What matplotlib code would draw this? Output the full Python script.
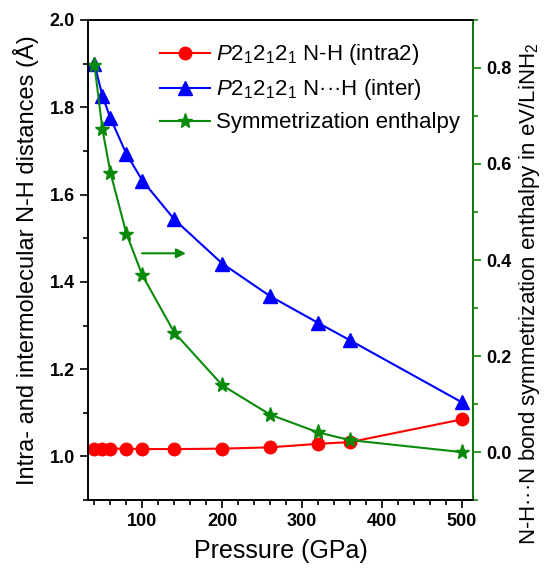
import matplotlib
matplotlib.use("Agg")
import matplotlib.pyplot as plt
from matplotlib.ticker import MultipleLocator

plt.rcParams["font.family"] = ["Liberation Sans", "DejaVu Sans"]
plt.rcParams["mathtext.fontset"] = "custom"
plt.rcParams["mathtext.rm"] = "Liberation Sans"
plt.rcParams["mathtext.it"] = "Liberation Sans:italic"

# ── Data ─────────────────────────────────────────────────────────────────────
pressure = [40, 50, 60, 80, 100, 140, 200, 260, 320, 360, 500]
nh_intra = [1.018, 1.018, 1.018, 1.018, 1.017, 1.017, 1.018, 1.021, 1.029, 1.033, 1.085]
nh_inter = [1.899, 1.826, 1.775, 1.693, 1.632, 1.543, 1.442, 1.367, 1.306, 1.266, 1.124]
sym_enthalpy = [0.806, 0.672, 0.582, 0.455, 0.368, 0.249, 0.139, 0.078, 0.041, 0.025, 0.0]

lbl_intra = r"$\mathit{P}$2$_1$2$_1$2$_1$ N-H (intra2)"
lbl_inter = r"$\mathit{P}$2$_1$2$_1$2$_1$ N" + "\u00b7\u00b7\u00b7" + "H (inter)"
lbl_sym = "Symmetrization enthalpy"

green = "#0a8a0a"

# ── Figure ───────────────────────────────────────────────────────────────────
fig = plt.figure(figsize=(5.47, 5.69), dpi=100)
ax = fig.add_axes([0.161, 0.121, 0.704, 0.844])
ax2 = ax.twinx()

l1, = ax.plot(pressure, nh_intra, "-o", color="red", lw=1.5, ms=9)
l2, = ax.plot(pressure, nh_inter, "-^", color="blue", lw=1.5, ms=10)
l3, = ax2.plot(pressure, sym_enthalpy, "-*", color=green, lw=1.5, ms=11)

ax.set_xlim(32, 514)
ax.set_ylim(0.9, 2.0)
ax2.set_ylim(-0.1, 0.9)

ax.xaxis.set_major_locator(MultipleLocator(100))
ax.xaxis.set_minor_locator(MultipleLocator(20))
ax.yaxis.set_major_locator(MultipleLocator(0.2))
ax.yaxis.set_minor_locator(MultipleLocator(0.1))
ax2.yaxis.set_major_locator(MultipleLocator(0.2))
ax2.yaxis.set_minor_locator(MultipleLocator(0.1))

ax.tick_params(which="major", length=6, width=1.2, labelsize=13)
ax.tick_params(which="minor", length=3.5, width=1.2)
ax.tick_params(axis="x", top=False, which="both")
ax2.tick_params(which="major", length=6, width=1.2, labelsize=13, color=green)
ax2.tick_params(which="minor", length=3.5, width=1.2, color=green)
for lab in ax.get_xticklabels() + ax.get_yticklabels() + ax2.get_yticklabels():
    lab.set_fontweight("bold")

for sp in ax.spines.values():
    sp.set_linewidth(1.2)
for sp in ax2.spines.values():
    sp.set_linewidth(1.2)
ax2.spines["right"].set_color(green)

ax.set_xlabel("Pressure (GPa)", fontsize=18, labelpad=6)
ax.set_ylabel("Intra- and intermolecular N-H distances (\u00c5)", fontsize=17, labelpad=8)
ax2.set_ylabel("N-H\u00b7\u00b7\u00b7N bond symmetrization enthalpy in eV/LiNH$_2$", fontsize=16)
ax2.yaxis.set_label_coords(1.115, 0.43)

# arrow showing which axis the enthalpy curve belongs to
ax2.annotate("", xy=(158, 0.414), xytext=(96, 0.414),
             arrowprops=dict(arrowstyle="-|>", color=green, lw=1.5, mutation_scale=14))

ax.legend([l1, l2, l3], [lbl_intra, lbl_inter, lbl_sym], loc="upper left",
          bbox_to_anchor=(0.14, 0.99), frameon=False, fontsize=16,
          handlelength=2.25, handletextpad=0.3, labelspacing=0.45, borderaxespad=0.4)

fig.savefig("out.png", dpi=100)
